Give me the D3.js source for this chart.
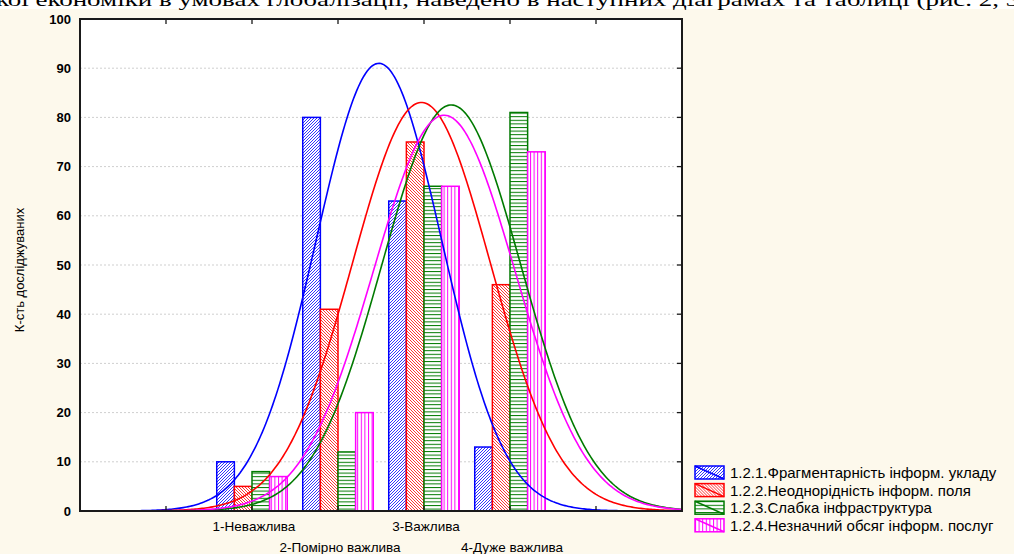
<!DOCTYPE html>
<html>
<head>
<meta charset="utf-8">
<script src="https://cdn.jsdelivr.net/npm/d3@7"></script>
<style>
  body { margin: 0; background: #fdf9ec; }
  svg { display: block; }
</style>
</head>
<body>
<svg id="chart" width="1014" height="554"></svg>
<script>
// categories (rating values) and their labels
const categories = [1, 2, 3, 4];
const catLabels = ["1-Неважлива", "2-Помірно важлива", "3-Важлива", "4-Дуже важлива"];

// counts per series
const seriesNames = [
  "1.2.1.Фрагментарність інформ. укладу",
  "1.2.2.Неоднорідність інформ. поля",
  "1.2.3.Слабка інфраструктура",
  "1.2.4.Незначний обсяг інформ. послуг"
];
const s1 = [10, 80, 63, 13];
const s2 = [5, 41, 75, 46];
const s3 = [8, 12, 66, 81];
const s4 = [7, 20, 66, 73];
const yTicks = [0, 10, 20, 30, 40, 50, 60, 70, 80, 90, 100];

const colors = ["#0000ff", "#ff0000", "#007a00", "#ff00ff"];
const allSeries = [s1, s2, s3, s4];

let self = {};
self.margin = {top: 19, right: 332, bottom: 43, left: 80};
self.width = 1014 - self.margin.left - self.margin.right;
self.height = 554 - self.margin.top - self.margin.bottom;

const svg = d3.select("#chart");

// clipped line of document text above the chart
svg.append("rect").attr("x", 0).attr("y", 0).attr("width", 1014).attr("height", 9).attr("fill", "#ffffff");
svg.append("text")
  .attr("x", -4).attr("y", 6)
  .attr("font-family", "Liberation Serif, serif")
  .attr("font-size", 19)
  .attr("textLength", 1030)
  .attr("lengthAdjust", "spacingAndGlyphs")
  .attr("fill", "#000")
  .text("кої економіки в умовах глобалізації, наведено в наступних діаграмах та таблиці (рис. 2, 3.");

// patterns
const defs = svg.append("defs");
function hatch(id, color, kind) {
  let p = defs.append("pattern").attr("id", id).attr("patternUnits", "userSpaceOnUse");
  if (kind === "fwd" || kind === "back") {
    p.attr("width", 3).attr("height", 3);
    p.append("rect").attr("width", 3).attr("height", 3).attr("fill", "#fff");
    let d = kind === "fwd" ? "M-1,1 l2,-2 M0,3 l3,-3 M2,4 l2,-2" : "M-1,2 l2,2 M0,0 l3,3 M2,-1 l2,2";
    p.append("path").attr("d", d).attr("stroke", color).attr("stroke-width", 0.8);
  } else if (kind === "horiz") {
    p.attr("width", 4).attr("height", 3.6);
    p.append("rect").attr("width", 4).attr("height", 3.6).attr("fill", "#fff");
    p.append("line").attr("x1", 0).attr("x2", 4).attr("y1", 0.5).attr("y2", 0.5)
      .attr("stroke", color).attr("stroke-width", 1);
  } else {
    p.attr("width", 3.6).attr("height", 4);
    p.append("rect").attr("width", 3.6).attr("height", 4).attr("fill", "#fff");
    p.append("line").attr("x1", 0.5).attr("x2", 0.5).attr("y1", 0).attr("y2", 4)
      .attr("stroke", color).attr("stroke-width", 1);
  }
}
const kinds = ["fwd", "back", "horiz", "vert"];
colors.forEach((c, i) => hatch("pat" + i, c, kinds[i]));

const g = svg.append("g").attr("transform", "translate(" + self.margin.left + "," + self.margin.top + ")");

const x = d3.scaleLinear().domain([-1, 6]).range([0, self.width]);
const y = d3.scaleLinear().domain([0, 100]).range([self.height, 0]);

g.append("rect").attr("width", self.width).attr("height", self.height).attr("fill", "#fff");

// grid
g.append("g").selectAll("line").data(yTicks.filter(d => d > 0 && d < 100)).join("line")
  .attr("x1", 0).attr("x2", self.width)
  .attr("y1", d => y(d)).attr("y2", d => y(d))
  .attr("stroke", "#cfcfcf").attr("stroke-dasharray", "2,2");

// bars
const bw = 0.205;
allSeries.forEach((s, i) => {
  g.append("g").selectAll("rect").data(s).join("rect")
    .attr("x", (d, k) => x(categories[k] + (i - 2) * bw))
    .attr("y", d => y(d))
    .attr("width", x(bw) - x(0))
    .attr("height", d => y(0) - y(d))
    .attr("fill", "url(#pat" + i + ")")
    .attr("stroke", colors[i])
    .attr("stroke-width", 1.5);
});

// fitted normal curves
const xs = d3.range(-1, 6.001, 0.02);
allSeries.forEach((s, i) => {
  const n = d3.sum(s);
  const mean = d3.sum(s, (d, k) => d * categories[k]) / n;
  const variance = d3.sum(s, (d, k) => d * (categories[k] - mean) ** 2) / (n - 1);
  const sd = Math.sqrt(variance);
  const pts = xs.map(v => ({v: v, f: n / (sd * Math.sqrt(2 * Math.PI)) * Math.exp(-((v - mean) ** 2) / (2 * variance))}));
  const line = d3.line().x(d => x(d.v)).y(d => y(d.f));
  g.append("path").datum(pts)
    .attr("fill", "none").attr("stroke", colors[i]).attr("stroke-width", 1.6)
    .attr("d", line);
});

// frame + inner ticks
g.append("rect").attr("width", self.width).attr("height", self.height)
  .attr("fill", "none").attr("stroke", "#1a1a1a").attr("stroke-width", 2);
const xt = [0, 1, 2, 3, 4, 5];
g.append("g").selectAll("line").data(xt).join("line")
  .attr("x1", d => x(d)).attr("x2", d => x(d)).attr("y1", 0).attr("y2", 5)
  .attr("stroke", "#1a1a1a").attr("stroke-width", 1.3);
g.append("g").selectAll("line").data(xt).join("line")
  .attr("x1", d => x(d)).attr("x2", d => x(d)).attr("y1", self.height).attr("y2", self.height - 5)
  .attr("stroke", "#1a1a1a").attr("stroke-width", 1.3);
g.append("g").selectAll("line").data(yTicks).join("line")
  .attr("x1", self.width).attr("x2", self.width - 5).attr("y1", d => y(d)).attr("y2", d => y(d))
  .attr("stroke", "#1a1a1a").attr("stroke-width", 1.3);

// y axis labels
const yAxis = d3.axisLeft(y).tickValues(yTicks).tickSize(0).tickPadding(9);
g.append("g").call(yAxis).call(a => a.select(".domain").remove())
  .selectAll("text")
  .attr("font-family", "Liberation Sans, Arial, sans-serif")
  .attr("font-size", 13).attr("font-weight", "bold").attr("fill", "#000");

svg.append("text")
  .attr("transform", "translate(24," + (self.margin.top + self.height / 2 + 5) + ") rotate(-90)")
  .attr("text-anchor", "middle")
  .attr("font-family", "Liberation Sans, Arial, sans-serif")
  .attr("font-size", 13).attr("fill", "#000")
  .text("К-сть досліджуваних");

// x labels (staggered)
g.append("g").selectAll("text").data(categories).join("text")
  .attr("x", d => x(d) + 2)
  .attr("y", (d, k) => self.height + (k % 2 === 0 ? 20 : 41))
  .attr("text-anchor", "middle")
  .attr("font-family", "Liberation Sans, Arial, sans-serif")
  .attr("font-size", 13.5).attr("fill", "#000")
  .text((d, k) => catLabels[k]);

// legend
const lg = svg.append("g").attr("transform", "translate(695,466)");
seriesNames.forEach((name, i) => {
  const row = lg.append("g").attr("transform", "translate(0," + i * 17.6 + ")");
  row.append("rect").attr("width", 29).attr("height", 13)
    .attr("fill", "url(#pat" + i + ")").attr("stroke", colors[i]).attr("stroke-width", 1.5);
  row.append("line").attr("x1", 0).attr("y1", 0).attr("x2", 29).attr("y2", 13)
    .attr("stroke", colors[i]).attr("stroke-width", 1.5);
  row.append("text").attr("x", 35).attr("y", 12)
    .attr("font-family", "Liberation Sans, Arial, sans-serif")
    .attr("font-size", 15).attr("fill", "#000")
    .text(name);
});
</script>
</body>
</html>
